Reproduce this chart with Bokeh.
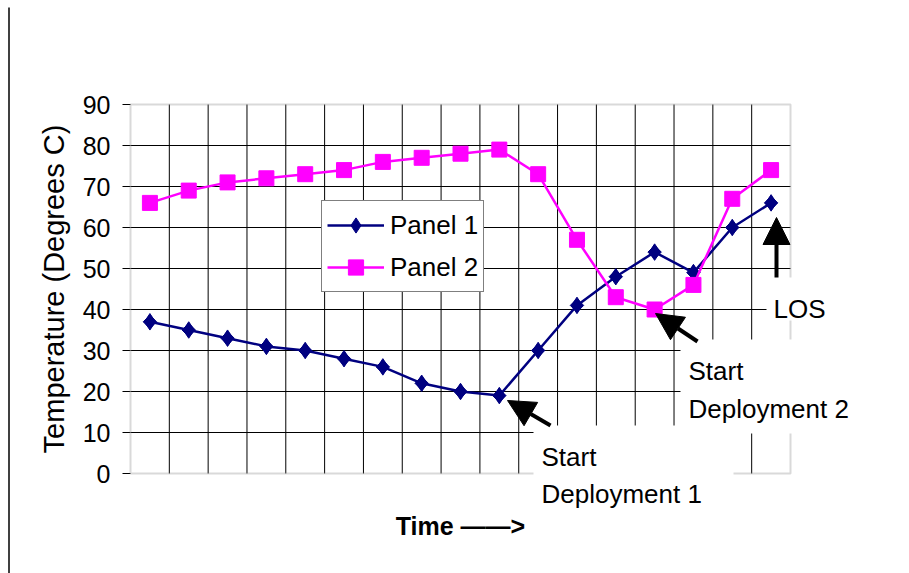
import numpy as np
from bokeh.plotting import figure
from bokeh.models import (Range1d, FixedTicker, Legend, LegendItem, Label,
                          BoxAnnotation, Arrow, NormalHead)
from bokeh.embed import file_html
from bokeh.resources import INLINE

# ---- data ----
time_index = list(range(17))
panel1 = [37, 35, 33, 31, 30, 28, 26, 22, 20, 19, 30, 41, 48, 54, 49, 60, 66]
panel2 = [66, 69, 71, 72, 73, 74, 76, 77, 78, 79, 73, 57, 43, 40, 46, 67, 74]
y_ticks = [0, 10, 20, 30, 40, 50, 60, 70, 80, 90]
series_names = ["Panel 1", "Panel 2"]

# ---- layout constants (pixels) ----
W, H = 909, 573
FL, FR, FT, FB = 130, 790, 104, 473          # plot-area box on the canvas
XMIN, XMAX = time_index[0] - 0.5, time_index[-1] + 0.5
YMIN, YMAX = y_ticks[0], y_ticks[-1]


def dx(px):
    return (px - FL) / (FR - FL) * (XMAX - XMIN) + XMIN


def dy(py):
    return (FB - py) / (FB - FT) * (YMAX - YMIN) + YMIN


FONT = "Liberation Sans"

# the frame covers the whole canvas so nothing gets clipped
p = figure(width=W, height=H, output_backend="svg", toolbar_location=None,
           x_range=Range1d(dx(0), dx(W)), y_range=Range1d(dy(H), dy(0)),
           min_border=0)
p.min_border_left = p.min_border_right = p.min_border_top = p.min_border_bottom = 0
p.background_fill_color = "white"
p.border_fill_color = "white"
p.outline_line_color = None
p.grid.visible = False

# grid lines of the plot area
bounds_x = [i + 0.5 for i in time_index[:-1]]
p.segment(x0=bounds_x, x1=bounds_x, y0=YMIN, y1=YMAX,
          line_color="black", line_width=1, level="underlay")
inner_y = y_ticks[1:-1]
p.segment(x0=XMIN, x1=XMAX, y0=inner_y, y1=inner_y,
          line_color="black", line_width=1, level="underlay")

# y axis fixed at the left side of the plot area
p.yaxis.fixed_location = XMIN
p.yaxis.bounds = (YMIN, YMAX)
p.yaxis.ticker = FixedTicker(ticks=y_ticks)
p.yaxis.axis_line_color = None
p.yaxis.major_tick_line_color = "black"
p.yaxis.major_tick_out = 8
p.yaxis.major_tick_in = 0
p.yaxis.minor_tick_line_color = None
p.yaxis.major_label_text_font = FONT
p.yaxis.major_label_text_font_size = "25px"
p.yaxis.major_label_text_color = "black"
p.yaxis.major_label_standoff = 12
p.yaxis.axis_label = "Temperature (Degrees C)"
p.yaxis.axis_label_text_font = FONT
p.yaxis.axis_label_text_font_size = "29px"
p.yaxis.axis_label_text_font_style = "normal"
p.yaxis.axis_label_text_color = "black"
p.yaxis.axis_label_standoff = 10

# x axis fixed at the bottom of the plot area: label only
p.xaxis.fixed_location = YMIN
p.xaxis.bounds = (XMIN, XMAX)
p.xaxis.ticker = FixedTicker(ticks=[])
p.xaxis.axis_line_color = None
p.xaxis.major_tick_line_color = None
p.xaxis.minor_tick_line_color = None
p.xaxis.major_label_text_font_size = "1px"
p.xaxis.axis_label = "Time ——>"
p.xaxis.axis_label_text_font = FONT
p.xaxis.axis_label_text_font_size = "25px"
p.xaxis.axis_label_text_font_style = "bold"
p.xaxis.axis_label_text_color = "black"
p.xaxis.axis_label_standoff = 38

# series
NAVY, MAGENTA = "#000080", "#FF00FF"
l1 = p.line(time_index, panel1, line_color=NAVY, line_width=2.5)
m1 = p.scatter(time_index, panel1, marker="square", angle=np.pi / 4, size=9.5,
               fill_color=NAVY, line_color=NAVY)
k1 = p.scatter(time_index, panel1, marker="diamond", size=16.5,
               fill_color=NAVY, line_color=NAVY)
l2 = p.line(time_index, panel2, line_color=MAGENTA, line_width=2.5)
m2 = p.scatter(time_index, panel2, marker="square", size=15,
               fill_color=MAGENTA, line_color=MAGENTA)

# plot-area border
p.add_layout(BoxAnnotation(left=XMIN, right=XMAX, bottom=YMIN, top=YMAX,
                           fill_color=None, line_color="#808080", line_width=2))

# white boxes behind the annotation texts
for (l, r, t, b) in [(533, 733, 425, 505), (680, 880, 339, 433), (766, 840, 277, 320)]:
    p.add_layout(BoxAnnotation(left=dx(l), right=dx(r), top=dy(t), bottom=dy(b),
                               fill_color="white", fill_alpha=1, line_color=None))

# arrows
for (x0, y0, x1, y1) in [(550, 425, 507, 400), (697, 341, 655, 313), (776, 277, 776, 217)]:
    p.add_layout(Arrow(x_start=dx(x0), y_start=dy(y0), x_end=dx(x1), y_end=dy(y1),
                       line_color="black", line_width=4,
                       end=NormalHead(size=27, fill_color="black", line_color="black")))

# annotation texts
for (txt, px, py) in [("Start", 541, 456), ("Deployment 1", 541, 493),
                      ("Start", 688, 370), ("Deployment 2", 688, 408),
                      ("LOS", 773, 308)]:
    p.add_layout(Label(x=dx(px), y=dy(py), text=txt, text_font=FONT,
                       text_font_size="26px", text_color="black",
                       text_align="left", text_baseline="alphabetic"))

# left edge of the chart area
p.add_layout(Arrow(x_start=dx(8.5), y_start=dy(7), x_end=dx(8.5), y_end=dy(H + 5),
                   end=None, line_color="black", line_width=1.5))

legend = Legend(items=[LegendItem(label=series_names[0], renderers=[l1, k1]),
                       LegendItem(label=series_names[1], renderers=[l2, m2])],
                location=(321, H - 292))
legend.label_text_font = FONT
legend.label_text_font_size = "26px"
legend.label_text_color = "black"
legend.border_line_color = "black"
legend.border_line_width = 1
legend.background_fill_color = "white"
legend.background_fill_alpha = 1
legend.glyph_width = 57
legend.glyph_height = 38
legend.label_standoff = 6
legend.spacing = 4
legend.padding = 5
legend.margin = 0
p.add_layout(legend, "center")

open("out.html", "w").write(file_html(p, INLINE))
